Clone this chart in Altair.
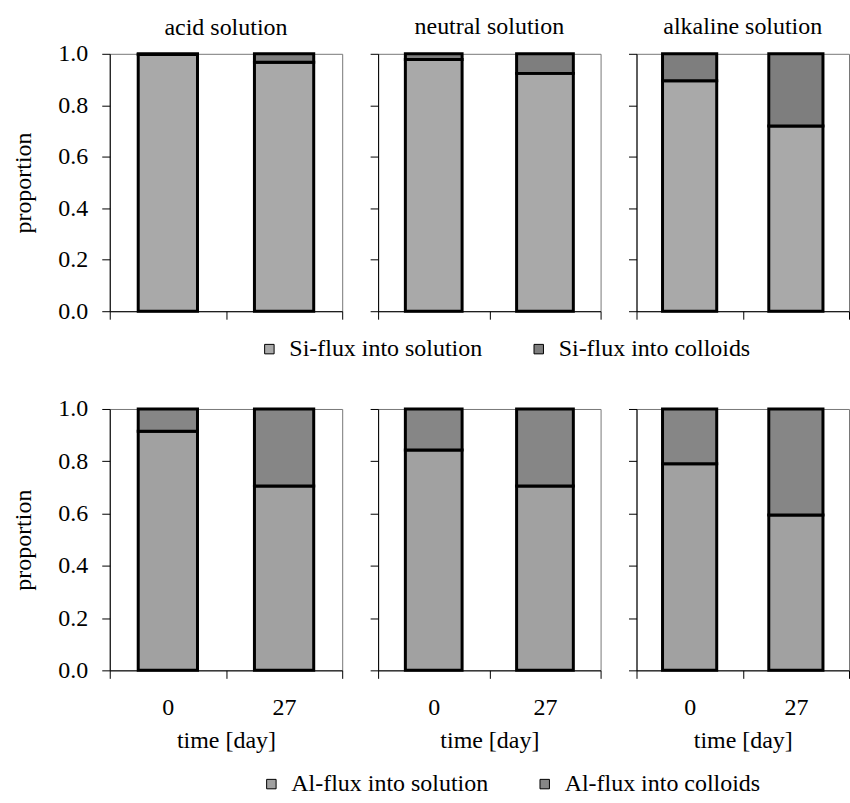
import altair as alt
import pandas as pd

# Panel columns and the two sampling days
solutions = ["acid solution", "neutral solution", "alkaline solution"]
days = ["0", "27"]

# Share of the flux that stays in solution (per solution, per day);
# the remainder goes into colloids
si_solution = [[0.997, 0.967], [0.978, 0.924], [0.895, 0.72]]
al_solution = [[0.915, 0.705], [0.843, 0.705], [0.79, 0.594]]

si_labels = ["Si-flux into solution", "Si-flux into colloids"]
al_labels = ["Al-flux into solution", "Al-flux into colloids"]
si_fills = ["#a9a9a9", "#7e7e7e"]
al_fills = ["#a1a1a1", "#868686"]

y_ticks = [0.0, 0.2, 0.4, 0.6, 0.8, 1.0]

FONT = "Liberation Serif"
FS = 24


def flux_table(values, labels):
    recs = []
    for sol, pair in zip(solutions, values):
        for day, v in zip(days, pair):
            recs.append({"solution": sol, "day": day, "flux": labels[0],
                         "rank": 0, "value": v})
            recs.append({"solution": sol, "day": day, "flux": labels[1],
                         "rank": 1, "value": round(1 - v, 4)})
    return pd.DataFrame(recs)


def panel(df, sol, labels, fills, width, height, first, bottom, titled, legend):
    sub = df[df["solution"] == sol]
    x_axis = alt.Axis(
        title="time [day]" if bottom else None,
        labels=bottom,
        labelAngle=0,
        tickBand="extent",
        tickSize=8,
        labelPadding=17,
        titlePadding=9,
    )
    y_axis = alt.Axis(
        title="proportion" if first else None,
        labels=first,
        values=y_ticks,
        format=".1f",
        tickSize=8,
        labelPadding=14,
        titlePadding=22,
    )
    ch = alt.Chart(sub).mark_bar(
        stroke="black", strokeWidth=3, width=alt.RelativeBandSize(0.51)
    ).encode(
        x=alt.X("day:N", sort=days,
                scale=alt.Scale(paddingInner=0, paddingOuter=0), axis=x_axis),
        y=alt.Y("value:Q", stack="zero",
                scale=alt.Scale(domain=[0, 1], nice=False), axis=y_axis),
        color=alt.Color("flux:N", scale=alt.Scale(domain=labels, range=fills),
                        legend=legend),
        order=alt.Order("rank:Q", sort="ascending"),
    ).properties(width=width, height=height)
    if titled:
        # the first panel's title sits above its "1.0" label, the others
        # above the frame itself
        ch = ch.properties(title=alt.TitleParams(sol, offset=2 if first else 13))
    return ch


def flux_legend(x, y):
    return alt.Legend(
        orient="none", legendX=x, legendY=y, direction="horizontal",
        title=None, symbolType="square", symbolSize=90,
        symbolStrokeColor="black", symbolStrokeWidth=1,
        labelFont=FONT, labelFontSize=FS, labelColor="black",
        labelOffset=8, columnPadding=44, labelLimit=400,
    )


widths = [233, 223, 213]

si_df = flux_table(si_solution, si_labels)
al_df = flux_table(al_solution, al_labels)

top_row = alt.hconcat(
    *[panel(si_df, s, si_labels, si_fills, w, 258, i == 0, False, True,
            flux_legend(148, 284))
      for i, (s, w) in enumerate(zip(solutions, widths))],
    spacing=36, bounds="flush",
)
bottom_row = alt.hconcat(
    *[panel(al_df, s, al_labels, al_fills, w, 262, i == 0, True, False,
            flux_legend(150, 364))
      for i, (s, w) in enumerate(zip(solutions, widths))],
    spacing=36, bounds="flush",
)

chart = alt.vconcat(top_row, bottom_row, spacing=35).resolve_scale(
    color="independent"
).properties(
    padding={"left": 11, "top": 14, "right": 0, "bottom": 0},
    background="white",
).configure_view(
    stroke="#777777", strokeWidth=1,
).configure_axis(
    labelFont=FONT, labelFontSize=FS, labelColor="black",
    titleFont=FONT, titleFontSize=FS, titleFontWeight="normal",
    titleColor="black", domainColor="black", tickColor="black",
    domainWidth=1, tickWidth=1, grid=False,
).configure_title(
    font=FONT, fontSize=FS, fontWeight="normal", color="black",
)

chart.save("out.html", embed_options={"renderer": "svg", "actions": False})
